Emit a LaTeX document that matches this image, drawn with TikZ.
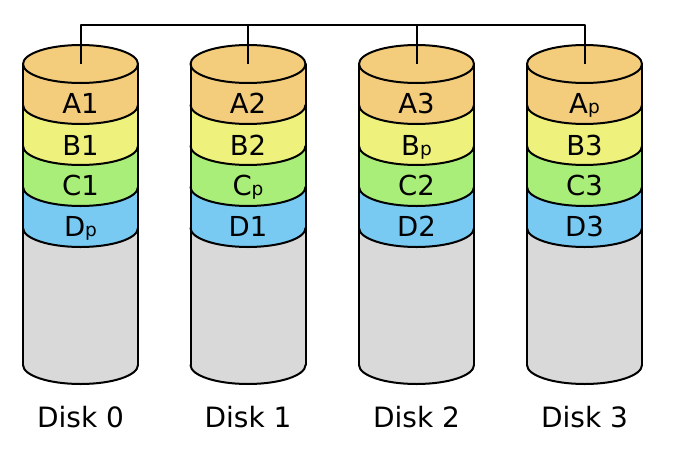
\documentclass[tikz,border=0pt]{standalone}
\usepackage{fontspec}
\setmainfont{DejaVu Sans}
\definecolor{cA}{RGB}{243,205,124}
\definecolor{cB}{RGB}{238,242,124}
\definecolor{cC}{RGB}{170,238,122}
\definecolor{cD}{RGB}{120,202,242}
\definecolor{cG}{RGB}{217,217,217}
\newcommand{\pp}{{\fontsize{18.5}{18.5}\selectfont p}}
\tikzset{
  lbl/.style={inner sep=0pt, anchor=base, font=\fontsize{27.5}{27.5}\selectfont},
  disklbl/.style={inner sep=0pt, anchor=base, font=\fontsize{28}{28}\selectfont},
  edge/.style={line width=2pt, line join=round, line cap=round}
}
\newcommand{\band}[4]{% cx, ytop, ybot, color
  \fill[#4] (#1-57.5,#2) -- (#1-57.5,#3) arc[start angle=180, end angle=0, x radius=57.5, y radius=19] -- (#1+57.5,#2) -- cycle;
  \draw[edge] (#1-57.5,#3) arc[start angle=180, end angle=0, x radius=57.5, y radius=19];
}
\newcommand{\disk}[6]{% index, cx, A, B, C, D labels
  \fill[cG] (#2-57.5,64) -- (#2-57.5,365) arc[start angle=180, end angle=0, x radius=57.5, y radius=19] -- (#2+57.5,64) -- cycle;
  \draw[edge] (#2-57.5,365) arc[start angle=180, end angle=0, x radius=57.5, y radius=19];
  \band{#2}{187}{228}{cD}
  \band{#2}{146}{187}{cC}
  \band{#2}{105}{146}{cB}
  \band{#2}{64}{105}{cA}
  \filldraw[edge, fill=cA] (#2,64) ellipse[x radius=57.5, y radius=19];
  \draw[edge] (#2-57.5,64) -- (#2-57.5,365);
  \draw[edge] (#2+57.5,64) -- (#2+57.5,365);
  \coordinate (top#1) at (#2,64);
  \node[lbl] (a#1) at (#2,113.5) {#3};
  \node[lbl] (b#1) at (#2,155) {#4};
  \node[lbl] (c#1) at (#2,195.5) {#5};
  \node[lbl] (d#1) at (#2,236) {#6};
  \node[disklbl] (disk#1) at (#2,427) {Disk #1};
}
\begin{document}
\begin{tikzpicture}[x=1pt,y=-1pt]
\useasboundingbox (0,0) rectangle (675,455);
\fill[white] (0,0) rectangle (675,455);
\disk{0}{80.5}{A1}{B1}{C1}{D\pp}
\disk{1}{248}{A2}{B2}{C\pp}{D1}
\disk{2}{416.5}{A3}{B\pp}{C2}{D2}
\disk{3}{584.5}{A\pp}{B3}{C3}{D3}
\coordinate (bus) at (0,25);
\draw[edge, line cap=butt] (top0) -- (top0 |- bus) -- (top3 |- bus) -- (top3);
\draw[edge, line cap=butt] (top1) -- (top1 |- bus);
\draw[edge, line cap=butt] (top2) -- (top2 |- bus);
\end{tikzpicture}
\end{document}
